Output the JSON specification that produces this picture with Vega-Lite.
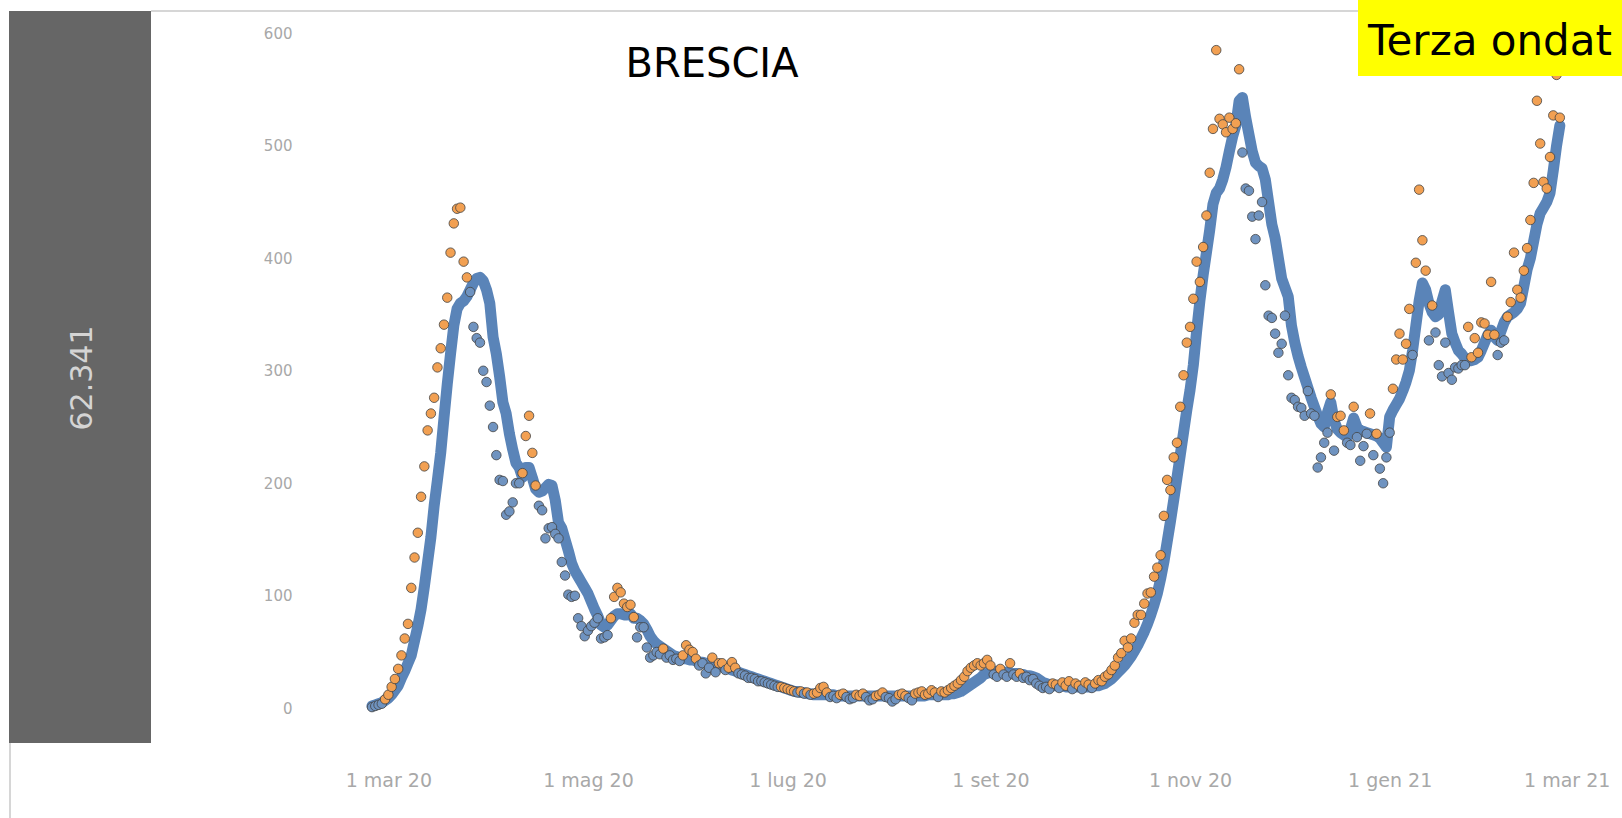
{
"$schema": "https://vega.github.io/schema/vega-lite/v6.json",
"autosize": {"type": "none"},
"padding": {"left": 300, "top": 11, "right": 0, "bottom": 76},
"width": 1322,
"height": 731,
"background": "white",
"config": {"view": {"stroke": null}},
"datasets": {
"brescia": [
{"d":"2020-02-25","a":2,"v":1},{"d":"2020-02-26","a":3,"v":2},{"d":"2020-02-27","a":4,"v":3},{"d":"2020-02-28","a":5,"v":4},{"d":"2020-02-29","a":7,"v":8},
{"d":"2020-03-01","a":9,"v":12},{"d":"2020-03-02","a":12,"v":19},{"d":"2020-03-03","a":16,"v":26},{"d":"2020-03-04","a":20,"v":35},{"d":"2020-03-05","a":27,"v":47},{"d":"2020-03-06","a":33,"v":62},{"d":"2020-03-07","a":40,"v":75},{"d":"2020-03-08","a":47,"v":107},{"d":"2020-03-09","a":60,"v":134},{"d":"2020-03-10","a":73,"v":156},{"d":"2020-03-11","a":88,"v":188},{"d":"2020-03-12","a":108,"v":215},{"d":"2020-03-13","a":130,"v":247},{"d":"2020-03-14","a":152,"v":262},{"d":"2020-03-15","a":180,"v":276},{"d":"2020-03-16","a":203,"v":303},{"d":"2020-03-17","a":227,"v":320},{"d":"2020-03-18","a":258,"v":341},{"d":"2020-03-19","a":288,"v":365},{"d":"2020-03-20","a":315,"v":405},{"d":"2020-03-21","a":340,"v":431},{"d":"2020-03-22","a":355,"v":444},{"d":"2020-03-23","a":360,"v":445},{"d":"2020-03-24","a":362,"v":397},{"d":"2020-03-25","a":366,"v":383},{"d":"2020-03-26","a":372,"v":370},{"d":"2020-03-27","a":378,"v":339},{"d":"2020-03-28","a":382,"v":329},{"d":"2020-03-29","a":383,"v":325},{"d":"2020-03-30","a":380,"v":300},{"d":"2020-03-31","a":372,"v":290},
{"d":"2020-04-01","a":360,"v":269},{"d":"2020-04-02","a":330,"v":250},{"d":"2020-04-03","a":315,"v":225},{"d":"2020-04-04","a":295,"v":203},{"d":"2020-04-05","a":272,"v":202},{"d":"2020-04-06","a":262,"v":172},{"d":"2020-04-07","a":244,"v":175},{"d":"2020-04-08","a":230,"v":183},{"d":"2020-04-09","a":218,"v":200},{"d":"2020-04-10","a":214,"v":200},{"d":"2020-04-11","a":205,"v":209},{"d":"2020-04-12","a":214,"v":242},{"d":"2020-04-13","a":214,"v":260},{"d":"2020-04-14","a":205,"v":227},{"d":"2020-04-15","a":195,"v":198},{"d":"2020-04-16","a":192,"v":180},{"d":"2020-04-17","a":193,"v":176},{"d":"2020-04-18","a":196,"v":151},{"d":"2020-04-19","a":199,"v":160},{"d":"2020-04-20","a":198,"v":161},{"d":"2020-04-21","a":185,"v":155},{"d":"2020-04-22","a":165,"v":151},{"d":"2020-04-23","a":160,"v":130},{"d":"2020-04-24","a":150,"v":118},{"d":"2020-04-25","a":140,"v":101},{"d":"2020-04-26","a":129,"v":99},{"d":"2020-04-27","a":122,"v":100},{"d":"2020-04-28","a":117,"v":80},{"d":"2020-04-29","a":112,"v":73},{"d":"2020-04-30","a":107,"v":64},
{"d":"2020-05-01","a":102,"v":69},{"d":"2020-05-02","a":95,"v":73},{"d":"2020-05-03","a":88,"v":76},{"d":"2020-05-04","a":82,"v":80},{"d":"2020-05-05","a":74,"v":62},{"d":"2020-05-06","a":72,"v":63},{"d":"2020-05-07","a":74,"v":65},{"d":"2020-05-08","a":78,"v":80},{"d":"2020-05-09","a":82,"v":99},{"d":"2020-05-10","a":84,"v":107},{"d":"2020-05-11","a":84,"v":103},{"d":"2020-05-12","a":83,"v":93},{"d":"2020-05-13","a":83,"v":90},{"d":"2020-05-14","a":84,"v":92},{"d":"2020-05-15","a":80,"v":81},{"d":"2020-05-16","a":80,"v":63},{"d":"2020-05-17","a":78,"v":72},{"d":"2020-05-18","a":75,"v":72},{"d":"2020-05-19","a":70,"v":54},{"d":"2020-05-20","a":64,"v":45},{"d":"2020-05-21","a":60,"v":47},{"d":"2020-05-22","a":57,"v":50},{"d":"2020-05-23","a":55,"v":48},{"d":"2020-05-24","a":53,"v":53},{"d":"2020-05-25","a":51,"v":45},{"d":"2020-05-26","a":49,"v":47},{"d":"2020-05-27","a":47,"v":43},{"d":"2020-05-28","a":46,"v":44},{"d":"2020-05-29","a":45,"v":42},{"d":"2020-05-30","a":44,"v":47},{"d":"2020-05-31","a":44,"v":56},
{"d":"2020-06-01","a":43,"v":52},{"d":"2020-06-02","a":43,"v":50},{"d":"2020-06-03","a":42,"v":44},{"d":"2020-06-04","a":41,"v":38},{"d":"2020-06-05","a":41,"v":40},{"d":"2020-06-06","a":40,"v":31},{"d":"2020-06-07","a":40,"v":36},{"d":"2020-06-08","a":39,"v":45},{"d":"2020-06-09","a":39,"v":32},{"d":"2020-06-10","a":38,"v":40},{"d":"2020-06-11","a":37,"v":40},{"d":"2020-06-12","a":36,"v":34},{"d":"2020-06-13","a":35,"v":36},{"d":"2020-06-14","a":34,"v":41},{"d":"2020-06-15","a":33,"v":36},{"d":"2020-06-16","a":32,"v":31},{"d":"2020-06-17","a":31,"v":30},{"d":"2020-06-18","a":30,"v":29},{"d":"2020-06-19","a":29,"v":27},{"d":"2020-06-20","a":28,"v":27},{"d":"2020-06-21","a":27,"v":26},{"d":"2020-06-22","a":26,"v":24},{"d":"2020-06-23","a":25,"v":24},{"d":"2020-06-24","a":24,"v":23},{"d":"2020-06-25","a":23,"v":22},{"d":"2020-06-26","a":22,"v":21},{"d":"2020-06-27","a":21,"v":20},{"d":"2020-06-28","a":20,"v":19},{"d":"2020-06-29","a":19,"v":19},{"d":"2020-06-30","a":18,"v":18},
{"d":"2020-07-01","a":17,"v":17},{"d":"2020-07-02","a":16,"v":16},{"d":"2020-07-03","a":15,"v":15},{"d":"2020-07-04","a":15,"v":14},{"d":"2020-07-05","a":14,"v":15},{"d":"2020-07-06","a":14,"v":13},{"d":"2020-07-07","a":13,"v":14},{"d":"2020-07-08","a":13,"v":12},{"d":"2020-07-09","a":12,"v":13},{"d":"2020-07-10","a":12,"v":14},{"d":"2020-07-11","a":12,"v":18},{"d":"2020-07-12","a":12,"v":19},{"d":"2020-07-13","a":12,"v":14},{"d":"2020-07-14","a":12,"v":10},{"d":"2020-07-15","a":12,"v":11},{"d":"2020-07-16","a":11,"v":9},{"d":"2020-07-17","a":11,"v":12},{"d":"2020-07-18","a":11,"v":13},{"d":"2020-07-19","a":11,"v":10},{"d":"2020-07-20","a":11,"v":8},{"d":"2020-07-21","a":11,"v":9},{"d":"2020-07-22","a":11,"v":12},{"d":"2020-07-23","a":11,"v":11},{"d":"2020-07-24","a":11,"v":13},{"d":"2020-07-25","a":11,"v":10},{"d":"2020-07-26","a":11,"v":7},{"d":"2020-07-27","a":11,"v":8},{"d":"2020-07-28","a":11,"v":11},{"d":"2020-07-29","a":11,"v":12},{"d":"2020-07-30","a":11,"v":14},{"d":"2020-07-31","a":11,"v":10},
{"d":"2020-08-01","a":11,"v":9},{"d":"2020-08-02","a":11,"v":6},{"d":"2020-08-03","a":11,"v":8},{"d":"2020-08-04","a":11,"v":12},{"d":"2020-08-05","a":11,"v":13},{"d":"2020-08-06","a":11,"v":11},{"d":"2020-08-07","a":11,"v":9},{"d":"2020-08-08","a":11,"v":7},{"d":"2020-08-09","a":11,"v":13},{"d":"2020-08-10","a":11,"v":14},{"d":"2020-08-11","a":11,"v":15},{"d":"2020-08-12","a":11,"v":12},{"d":"2020-08-13","a":12,"v":13},{"d":"2020-08-14","a":12,"v":16},{"d":"2020-08-15","a":12,"v":14},{"d":"2020-08-16","a":12,"v":10},{"d":"2020-08-17","a":12,"v":15},{"d":"2020-08-18","a":12,"v":14},{"d":"2020-08-19","a":12,"v":16},{"d":"2020-08-20","a":13,"v":18},{"d":"2020-08-21","a":13,"v":20},{"d":"2020-08-22","a":14,"v":22},{"d":"2020-08-23","a":15,"v":25},{"d":"2020-08-24","a":17,"v":28},{"d":"2020-08-25","a":19,"v":33},{"d":"2020-08-26","a":21,"v":36},{"d":"2020-08-27","a":23,"v":38},{"d":"2020-08-28","a":25,"v":40},{"d":"2020-08-29","a":27,"v":38},{"d":"2020-08-30","a":30,"v":40},{"d":"2020-08-31","a":31,"v":43},
{"d":"2020-09-01","a":32,"v":38},{"d":"2020-09-02","a":32,"v":30},{"d":"2020-09-03","a":33,"v":28},{"d":"2020-09-04","a":33,"v":35},{"d":"2020-09-05","a":32,"v":30},{"d":"2020-09-06","a":32,"v":28},{"d":"2020-09-07","a":31,"v":40},{"d":"2020-09-08","a":31,"v":30},{"d":"2020-09-09","a":31,"v":28},{"d":"2020-09-10","a":30,"v":31},{"d":"2020-09-11","a":30,"v":27},{"d":"2020-09-12","a":29,"v":28},{"d":"2020-09-13","a":29,"v":25},{"d":"2020-09-14","a":28,"v":26},{"d":"2020-09-15","a":27,"v":22},{"d":"2020-09-16","a":25,"v":20},{"d":"2020-09-17","a":23,"v":18},{"d":"2020-09-18","a":22,"v":19},{"d":"2020-09-19","a":21,"v":17},{"d":"2020-09-20","a":20,"v":22},{"d":"2020-09-21","a":20,"v":21},{"d":"2020-09-22","a":20,"v":18},{"d":"2020-09-23","a":20,"v":23},{"d":"2020-09-24","a":19,"v":20},{"d":"2020-09-25","a":19,"v":24},{"d":"2020-09-26","a":19,"v":17},{"d":"2020-09-27","a":19,"v":22},{"d":"2020-09-28","a":19,"v":20},{"d":"2020-09-29","a":19,"v":17},{"d":"2020-09-30","a":19,"v":23},
{"d":"2020-10-01","a":19,"v":21},{"d":"2020-10-02","a":19,"v":18},{"d":"2020-10-03","a":20,"v":22},{"d":"2020-10-04","a":20,"v":25},{"d":"2020-10-05","a":21,"v":24},{"d":"2020-10-06","a":22,"v":28},{"d":"2020-10-07","a":24,"v":30},{"d":"2020-10-08","a":26,"v":34},{"d":"2020-10-09","a":29,"v":38},{"d":"2020-10-10","a":32,"v":45},{"d":"2020-10-11","a":35,"v":49},{"d":"2020-10-12","a":38,"v":60},{"d":"2020-10-13","a":42,"v":54},{"d":"2020-10-14","a":46,"v":62},{"d":"2020-10-15","a":51,"v":76},{"d":"2020-10-16","a":56,"v":83},{"d":"2020-10-17","a":62,"v":83},{"d":"2020-10-18","a":68,"v":93},{"d":"2020-10-19","a":75,"v":102},{"d":"2020-10-20","a":83,"v":103},{"d":"2020-10-21","a":92,"v":117},{"d":"2020-10-22","a":102,"v":125},{"d":"2020-10-23","a":115,"v":136},{"d":"2020-10-24","a":130,"v":171},{"d":"2020-10-25","a":148,"v":203},{"d":"2020-10-26","a":166,"v":194},{"d":"2020-10-27","a":185,"v":223},{"d":"2020-10-28","a":205,"v":236},{"d":"2020-10-29","a":225,"v":268},{"d":"2020-10-30","a":245,"v":296},{"d":"2020-10-31","a":265,"v":325},
{"d":"2020-11-01","a":283,"v":339},{"d":"2020-11-02","a":305,"v":364},{"d":"2020-11-03","a":335,"v":397},{"d":"2020-11-04","a":362,"v":379},{"d":"2020-11-05","a":385,"v":410},{"d":"2020-11-06","a":405,"v":438},{"d":"2020-11-07","a":425,"v":476},{"d":"2020-11-08","a":448,"v":515},{"d":"2020-11-09","a":458,"v":585},{"d":"2020-11-10","a":462,"v":524},{"d":"2020-11-11","a":470,"v":519},{"d":"2020-11-12","a":481,"v":512},{"d":"2020-11-13","a":495,"v":525},{"d":"2020-11-14","a":508,"v":515},{"d":"2020-11-15","a":518,"v":520},{"d":"2020-11-16","a":540,"v":568},{"d":"2020-11-17","a":543,"v":494},{"d":"2020-11-18","a":525,"v":462},{"d":"2020-11-19","a":510,"v":460},{"d":"2020-11-20","a":495,"v":437},{"d":"2020-11-21","a":485,"v":417},{"d":"2020-11-22","a":482,"v":438},{"d":"2020-11-23","a":480,"v":450},{"d":"2020-11-24","a":470,"v":376},{"d":"2020-11-25","a":450,"v":349},{"d":"2020-11-26","a":430,"v":347},{"d":"2020-11-27","a":418,"v":333},{"d":"2020-11-28","a":400,"v":316},{"d":"2020-11-29","a":382,"v":324},{"d":"2020-11-30","a":374,"v":349},
{"d":"2020-12-01","a":366,"v":296},{"d":"2020-12-02","a":340,"v":276},{"d":"2020-12-03","a":325,"v":274},{"d":"2020-12-04","a":313,"v":268},{"d":"2020-12-05","a":303,"v":267},{"d":"2020-12-06","a":294,"v":260},{"d":"2020-12-07","a":285,"v":282},{"d":"2020-12-08","a":276,"v":262},{"d":"2020-12-09","a":268,"v":260},{"d":"2020-12-10","a":260,"v":214},{"d":"2020-12-11","a":253,"v":223},{"d":"2020-12-12","a":250,"v":236},{"d":"2020-12-13","a":263,"v":245},{"d":"2020-12-14","a":272,"v":279},{"d":"2020-12-15","a":256,"v":229},{"d":"2020-12-16","a":248,"v":259},{"d":"2020-12-17","a":245,"v":260},{"d":"2020-12-18","a":243,"v":247},{"d":"2020-12-19","a":241,"v":236},{"d":"2020-12-20","a":248,"v":234},{"d":"2020-12-21","a":258,"v":268},{"d":"2020-12-22","a":250,"v":241},{"d":"2020-12-23","a":247,"v":220},{"d":"2020-12-24","a":246,"v":233},{"d":"2020-12-25","a":245,"v":244},{"d":"2020-12-26","a":244,"v":262},{"d":"2020-12-27","a":243,"v":225},{"d":"2020-12-28","a":242,"v":244},{"d":"2020-12-29","a":240,"v":213},{"d":"2020-12-30","a":236,"v":200},{"d":"2020-12-31","a":232,"v":223},
{"d":"2021-01-01","a":259,"v":245},{"d":"2021-01-02","a":265,"v":284},{"d":"2021-01-03","a":270,"v":310},{"d":"2021-01-04","a":275,"v":333},{"d":"2021-01-05","a":282,"v":310},{"d":"2021-01-06","a":290,"v":324},{"d":"2021-01-07","a":300,"v":355},{"d":"2021-01-08","a":318,"v":314},{"d":"2021-01-09","a":340,"v":396},{"d":"2021-01-10","a":362,"v":461},{"d":"2021-01-11","a":378,"v":416},{"d":"2021-01-12","a":372,"v":389},{"d":"2021-01-13","a":360,"v":327},{"d":"2021-01-14","a":352,"v":358},{"d":"2021-01-15","a":348,"v":334},{"d":"2021-01-16","a":350,"v":305},{"d":"2021-01-17","a":362,"v":295},{"d":"2021-01-18","a":372,"v":325},{"d":"2021-01-19","a":352,"v":298},{"d":"2021-01-20","a":333,"v":292},{"d":"2021-01-21","a":325,"v":303},{"d":"2021-01-22","a":318,"v":302},{"d":"2021-01-23","a":315,"v":305},{"d":"2021-01-24","a":311,"v":305},{"d":"2021-01-25","a":309,"v":339},{"d":"2021-01-26","a":309,"v":312},{"d":"2021-01-27","a":310,"v":329},{"d":"2021-01-28","a":312,"v":316},{"d":"2021-01-29","a":318,"v":343},{"d":"2021-01-30","a":325,"v":342},{"d":"2021-01-31","a":332,"v":332},
{"d":"2021-02-01","a":336,"v":379},{"d":"2021-02-02","a":330,"v":332},{"d":"2021-02-03","a":327,"v":314},{"d":"2021-02-04","a":335,"v":325},{"d":"2021-02-05","a":343,"v":327},{"d":"2021-02-06","a":348,"v":348},{"d":"2021-02-07","a":350,"v":361},{"d":"2021-02-08","a":352,"v":405},{"d":"2021-02-09","a":355,"v":372},{"d":"2021-02-10","a":360,"v":365},{"d":"2021-02-11","a":375,"v":389},{"d":"2021-02-12","a":390,"v":409},{"d":"2021-02-13","a":400,"v":434},{"d":"2021-02-14","a":415,"v":467},{"d":"2021-02-15","a":430,"v":540},{"d":"2021-02-16","a":440,"v":502},{"d":"2021-02-17","a":445,"v":468},{"d":"2021-02-18","a":450,"v":462},{"d":"2021-02-19","a":458,"v":490},{"d":"2021-02-20","a":478,"v":527},{"d":"2021-02-21","a":500,"v":563},{"d":"2021-02-22","a":518,"v":525}
]
},
"layer": [
{"data": {"values": [{}]}, "mark": {"type": "rect", "fill": "#666666"}, "encoding": {"x": {"value": -291}, "x2": {"value": -149}, "y": {"value": 0}, "y2": {"value": 732}}},
{"data": {"values": [{}]}, "mark": {"type": "text", "text": "62.341", "angle": 270, "fill": "#d4d4d4", "font": "DejaVu Sans", "fontSize": 30, "align": "center", "baseline": "middle"}, "encoding": {"x": {"value": -217}, "y": {"value": 367}}},
{"data": {"values": [{}]}, "mark": {"type": "rule", "stroke": "#d6d6d6", "strokeWidth": 2}, "encoding": {"x": {"value": -149}, "x2": {"value": 1322}, "y": {"value": 0}}},
{"data": {"values": [{}]}, "mark": {"type": "rule", "stroke": "#d6d6d6", "strokeWidth": 2}, "encoding": {"x": {"value": -290}, "y": {"value": 732}, "y2": {"value": 807}}},
{"data": {"values": [{}]}, "mark": {"type": "text", "text": "BRESCIA", "fill": "#000000", "font": "DejaVu Sans", "fontSize": 40, "align": "center", "baseline": "alphabetic"}, "encoding": {"x": {"value": 412}, "y": {"value": 66}}},
{"data": {"name": "brescia"}, "mark": {"type": "line", "stroke": "#5a84b8", "strokeWidth": 11, "strokeCap": "round", "strokeJoin": "round"},
 "encoding": {
  "x": {"field": "d", "type": "temporal",
        "scale": {"domain": [{"year": 2020, "month": 2, "date": 3}, {"year": 2021, "month": 3, "date": 13}]},
        "axis": {"title": null, "domain": false, "ticks": false, "tickSize": 0, "grid": false, "labelFlush": false, "labelOverlap": false,
                 "values": [{"year": 2020, "month": 3, "date": 1}, {"year": 2020, "month": 5, "date": 1}, {"year": 2020, "month": 7, "date": 1}, {"year": 2020, "month": 9, "date": 1}, {"year": 2020, "month": 11, "date": 1}, {"year": 2021, "month": 1, "date": 1}, {"year": 2021, "month": 3, "date": 1}],
                 "labelExpr": "date(datum.value) + ' ' + ['gen','feb','mar','apr','mag','giu','lug','ago','set','ott','nov','dic'][month(datum.value)] + ' ' + (year(datum.value) % 100)",
                 "labelFont": "DejaVu Sans", "labelFontSize": 19, "labelColor": "#a8a8a8", "labelPadding": 38, "labelBaseline": "middle",
                 "labelOffset": {"condition": {"test": "year(datum.value) == 2021 && month(datum.value) == 2", "value": -16}, "value": 0}}},
  "y": {"field": "a", "type": "quantitative",
        "scale": {"domain": [-30, 619.8], "nice": false, "zero": false},
        "axis": {"title": null, "domain": false, "ticks": false, "tickSize": 0, "grid": false, "labelFlush": false, "labelOverlap": false,
                 "values": [0, 100, 200, 300, 400, 500, 600],
                 "labelFont": "DejaVu Sans", "labelFontSize": 15, "labelColor": "#a8a8a8", "labelPadding": 8}}
 }},
{"data": {"name": "brescia"}, "mark": {"type": "circle", "size": 90, "stroke": "#444444", "strokeWidth": 1, "strokeOpacity": 0.8, "opacity": 1},
 "encoding": {
  "x": {"field": "d", "type": "temporal"},
  "y": {"field": "v", "type": "quantitative"},
  "fill": {"condition": {"test": "datum.v >= datum.a", "value": "#f2a052"}, "value": "#6f93c0"}
 }},
{"data": {"values": [{}]}, "mark": {"type": "rect", "fill": "#ffff00"}, "encoding": {"x": {"value": 1058}, "x2": {"value": 1330}, "y": {"value": -11}, "y2": {"value": 65}}},
{"data": {"values": [{}]}, "mark": {"type": "text", "text": "Terza ondat", "fill": "#000000", "font": "DejaVu Sans", "fontSize": 42, "align": "left", "baseline": "alphabetic"}, "encoding": {"x": {"value": 1068}, "y": {"value": 44}}}
]
}
